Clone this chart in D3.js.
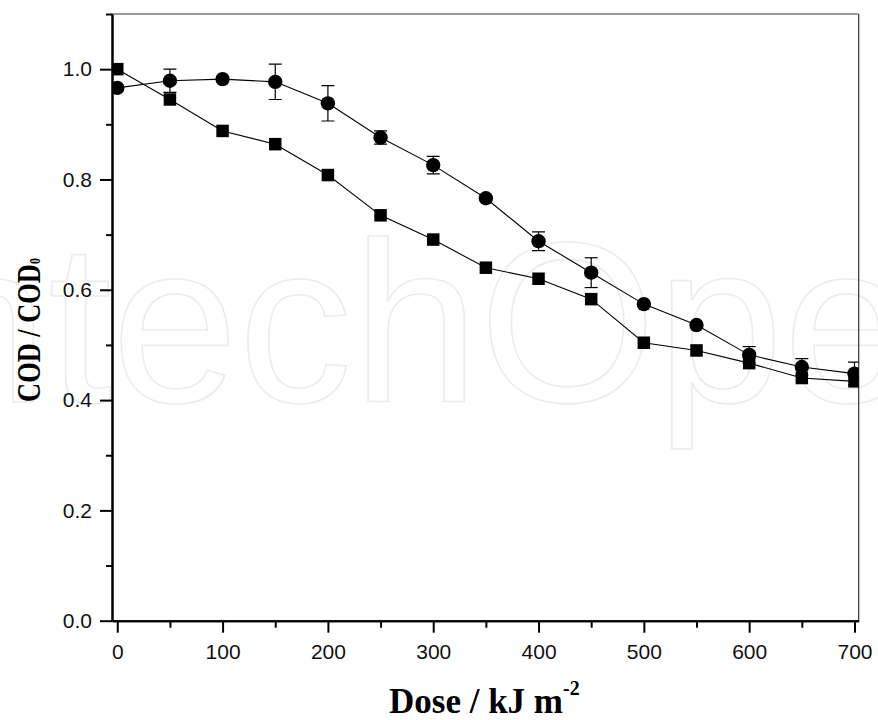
<!DOCTYPE html>
<html>
<head>
<meta charset="utf-8">
<script src="https://cdn.jsdelivr.net/npm/d3@7"></script>
<style>
  html, body { margin: 0; padding: 0; background: #fff; }
  svg { display: block; }
  .tick text { font-family: "Liberation Sans", Arial, sans-serif; font-size: 21px; fill: #111; }
</style>
</head>
<body>
<svg id="chart" width="878" height="720"></svg>
<script>
// UV dose (kJ m^-2) at each sampling point
const doses = [0, 50, 100, 150, 200, 250, 300, 350, 400, 450, 500, 550, 600, 650, 700];

// Normalised COD, square series
const codSquare = [1.000, 0.945, 0.888, 0.864, 0.808, 0.735, 0.691, 0.640, 0.620, 0.583, 0.504, 0.490, 0.467, 0.440, 0.434];

// Normalised COD, circle series and its standard deviation
const codCircle = [0.966, 0.979, 0.982, 0.977, 0.938, 0.876, 0.826, 0.766, 0.688, 0.631, 0.574, 0.536, 0.482, 0.460, 0.448];
const codCircleErr = [0, 0.021, 0, 0.032, 0.032, 0.012, 0.016, 0, 0.017, 0.027, 0, 0, 0.015, 0.015, 0.021];

// Axis ticks
const xMajorTicks = [0, 100, 200, 300, 400, 500, 600, 700];
const xMinorTicks = [50, 150, 250, 350, 450, 550, 650];
const yMajorTicks = [0.0, 0.2, 0.4, 0.6, 0.8, 1.0];
const yMinorTicks = [0.1, 0.3, 0.5, 0.7, 0.9, 1.1];

const svg = d3.select("#chart");
const plot = { left: 112, right: 858.7, top: 14, bottom: 620.7 };

const x = d3.scaleLinear().domain([-5, 704]).range([plot.left, plot.right]);
const y = d3.scaleLinear().domain([0, 1.1]).range([plot.bottom, plot.top]);

// Faint publisher watermark behind the plot
svg.append("text")
  .attr("x", -142).attr("y", 402)
  .attr("font-family", "'Liberation Sans', Arial, sans-serif")
  .attr("font-size", 228)
  .attr("fill", "none")
  .attr("stroke", "#ececec")
  .attr("stroke-width", 1.6)
  .text("IntechOpen");

// Top and right frame lines
svg.append("line")
  .attr("x1", plot.left).attr("x2", plot.right)
  .attr("y1", plot.top).attr("y2", plot.top)
  .attr("stroke", "#7a7a7a").attr("stroke-width", 1.6);
svg.append("line")
  .attr("x1", plot.right).attr("x2", plot.right)
  .attr("y1", plot.top).attr("y2", plot.bottom)
  .attr("stroke", "#333").attr("stroke-width", 1.2);

// Clip region for data marks
svg.append("defs").append("clipPath").attr("id", "plotClip")
  .append("rect")
  .attr("x", plot.left).attr("y", plot.top)
  .attr("width", plot.right - plot.left).attr("height", plot.bottom - plot.top);

const data = svg.append("g").attr("clip-path", "url(#plotClip)");

const line = d3.line().x(d => x(d[0])).y(d => y(d[1]));

// Square series
const sqPts = doses.map((d, i) => [d, codSquare[i]]);
data.append("path").datum(sqPts)
  .attr("d", line).attr("fill", "none").attr("stroke", "#000").attr("stroke-width", 1.1);

// Circle series
const ciPts = doses.map((d, i) => [d, codCircle[i], codCircleErr[i]]);
data.append("path").datum(ciPts)
  .attr("d", line).attr("fill", "none").attr("stroke", "#000").attr("stroke-width", 1.1);

const sq = 12.5;
data.selectAll("rect.sq").data(sqPts).enter().append("rect")
  .attr("class", "sq")
  .attr("x", d => x(d[0]) - sq / 2).attr("y", d => y(d[1]) - sq / 2)
  .attr("width", sq).attr("height", sq).attr("fill", "#000");

// Error bars for the circle series
const capW = 13;
const eb = data.selectAll("g.err").data(ciPts.filter(d => d[2] > 0)).enter().append("g")
  .attr("class", "err").attr("stroke", "#000").attr("stroke-width", 1.2);
eb.append("line")
  .attr("x1", d => x(d[0])).attr("x2", d => x(d[0]))
  .attr("y1", d => y(d[1] + d[2])).attr("y2", d => y(d[1] - d[2]));
eb.append("line")
  .attr("x1", d => x(d[0]) - capW / 2).attr("x2", d => x(d[0]) + capW / 2)
  .attr("y1", d => y(d[1] + d[2])).attr("y2", d => y(d[1] + d[2]));
eb.append("line")
  .attr("x1", d => x(d[0]) - capW / 2).attr("x2", d => x(d[0]) + capW / 2)
  .attr("y1", d => y(d[1] - d[2])).attr("y2", d => y(d[1] - d[2]));

data.selectAll("circle.ci").data(ciPts).enter().append("circle")
  .attr("class", "ci")
  .attr("cx", d => x(d[0])).attr("cy", d => y(d[1]))
  .attr("r", 7.2).attr("fill", "#000");

// Axes
function styleAxis(g) {
  g.select(".domain").attr("stroke", "#000").attr("stroke-width", 2);
  g.selectAll(".tick line").attr("stroke", "#000").attr("stroke-width", 2);
}

svg.append("g")
  .attr("transform", `translate(0,${plot.bottom})`)
  .call(d3.axisBottom(x).tickValues(xMinorTicks).tickSize(7).tickSizeOuter(0).tickFormat(""))
  .call(styleAxis);
svg.append("g")
  .attr("transform", `translate(0,${plot.bottom})`)
  .call(d3.axisBottom(x).tickValues(xMajorTicks).tickSize(12).tickSizeOuter(0).tickPadding(11).tickFormat(d3.format("d")))
  .call(styleAxis)
  .call(g => g.selectAll(".tick text").attr("dy", "0.71em"));

svg.append("g")
  .attr("transform", `translate(${plot.left},0)`)
  .call(d3.axisLeft(y).tickValues(yMinorTicks).tickSize(6).tickSizeOuter(0).tickFormat(""))
  .call(styleAxis);
svg.append("g")
  .attr("transform", `translate(${plot.left},0)`)
  .call(d3.axisLeft(y).tickValues(yMajorTicks).tickSize(12).tickSizeOuter(0).tickPadding(8).tickFormat(d3.format(".1f")))
  .call(styleAxis);

// Axis titles
const xt = svg.append("text")
  .attr("x", (plot.left + plot.right) / 2 - 1).attr("y", 713)
  .attr("text-anchor", "middle")
  .attr("font-family", "'Liberation Serif', 'Times New Roman', serif")
  .attr("font-weight", "bold").attr("font-size", 35).attr("fill", "#000");
xt.append("tspan").text("Dose / kJ m");
xt.append("tspan").attr("dy", -18).attr("font-size", 20).text("-2");

const yt = svg.append("g")
  .attr("transform", "translate(40,330) rotate(-90) scale(0.8,1)")
  .append("text")
  .attr("text-anchor", "middle")
  .attr("font-family", "'Liberation Serif', 'Times New Roman', serif")
  .attr("font-weight", "bold").attr("font-size", 33).attr("fill", "#000");
yt.append("tspan").text("COD / COD");
yt.append("tspan").attr("dy", 0).attr("font-size", 15).text("0");
</script>
</body>
</html>
